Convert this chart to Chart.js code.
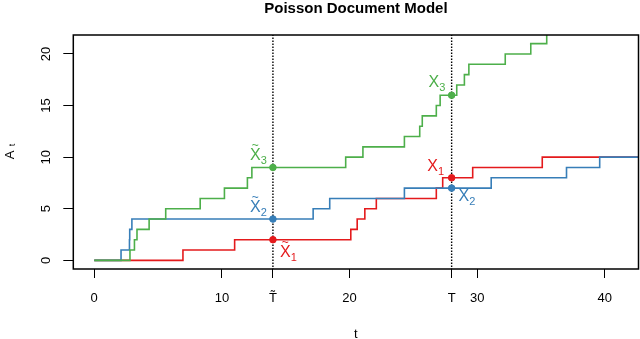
<!DOCTYPE html>
<html>
<head>
<meta charset="utf-8">
<script src="https://cdn.jsdelivr.net/npm/chart.js@4.4.1/dist/chart.umd.min.js"></script>
<style>
html, body { margin: 0; padding: 0; background: #fff; }
</style>
</head>
<body>
<canvas id="poissonChart" width="640" height="339"></canvas>
<script>
// jump times (t) and counts (A_t) of the three processes
const redT = [0, 6.95, 11.0, 20.1, 20.6, 21.2, 22.1, 26.8, 27.3, 29.65, 35.1, 43];
const redA = [0, 1, 2, 3, 4, 5, 6, 7, 8, 9, 10, 10];
const blueT = [0, 2.1, 2.76, 2.78, 2.95, 17.15, 18.45, 24.3, 31.1, 37.0, 39.6, 43];
const blueA = [0, 1, 2, 3, 4, 5, 6, 7, 8, 9, 10, 10];
const greenT = [0, 2.8, 3.15, 3.35, 4.3, 5.6, 8.3, 10.2, 12.0, 12.35, 19.7, 21.05,
                24.3, 25.5, 25.7, 26.8, 27.1, 28.4, 29.0, 29.35, 32.2, 34.2, 35.45, 43];
const greenA = [0, 1, 2, 3, 4, 5, 6, 7, 8, 9, 10, 11,
                12, 13, 14, 15, 16, 17, 18, 19, 20, 21, 22, 22];

// the two observation times (T~ and T) and the marked values there
const tTilde = 14;
const tEnd = 28;
const markT = [14, 14, 14, 28, 28, 28];
const markA = [2, 4, 9, 8, 7, 16];
const markSub = ['1', '2', '3', '1', '2', '3'];
const markTilde = [true, true, true, false, false, false];

// axis ticks
const xTicks = [0, 10, 14, 20, 28, 30, 40];
const xTickLabels = ['0', '10', 'T\u0303', '20', 'T', '30', '40'];
const yTicks = [0, 5, 10, 15, 20];

const RED = '#E41A1C';
const BLUE = '#377EB8';
const GREEN = '#4DAF4A';
const markColors = [RED, BLUE, GREEN, RED, BLUE, GREEN];
// label offsets from each marked point (px)
const labelDx = [12.3, -17.7, -17.7, -19, 12.3, -17.7];
const labelDy = [13, -11.5, -12, -11.3, 8.7, -12.3];

const FONT = '"Liberation Sans", Arial, Helvetica, sans-serif';

function toXY(ts, as) {
    return ts.map((t, i) => ({ x: t, y: as[i] }));
}

const extras = {
    id: 'extras',
    afterDraw(chart) {
        const { ctx, chartArea: a, scales: { x, y } } = chart;
        ctx.save();

        // plot frame
        ctx.strokeStyle = '#000';
        ctx.lineWidth = 1.5;
        ctx.strokeRect(a.left, a.top, a.right - a.left, a.bottom - a.top);

        // main title
        ctx.fillStyle = '#000';
        ctx.textAlign = 'center';
        ctx.textBaseline = 'middle';
        ctx.font = 'bold 15px ' + FONT;
        ctx.fillText('Poisson Document Model', (a.left + a.right) / 2, 8.5);

        // y tick labels, rotated like R
        ctx.font = '13px ' + FONT;
        yTicks.forEach(v => {
            ctx.save();
            ctx.translate(46, y.getPixelForValue(v));
            ctx.rotate(-Math.PI / 2);
            ctx.fillText(String(v), 0, 0);
            ctx.restore();
        });

        // y title A_t
        ctx.save();
        ctx.translate(10, 155);
        ctx.rotate(-Math.PI / 2);
        ctx.font = '13px ' + FONT;
        ctx.fillText('A', 0, 0);
        ctx.font = '9px ' + FONT;
        ctx.fillText('t', 10, 3);
        ctx.restore();

        // point labels X~_i and X_i
        markT.forEach((t, i) => {
            const px = x.getPixelForValue(t) + labelDx[i];
            const py = y.getPixelForValue(markA[i]) + labelDy[i];
            ctx.fillStyle = markColors[i];
            ctx.font = '16px ' + FONT;
            ctx.fillText('X', px, py);
            ctx.font = '11px ' + FONT;
            ctx.fillText(markSub[i], px + 8.5, py + 5);
            if (markTilde[i]) {
                ctx.font = '12px ' + FONT;
                ctx.fillText('~', px, py - 10);
            }
        });
        ctx.restore();
    }
};

new Chart(document.getElementById('poissonChart'), {
    type: 'scatter',
    data: {
        datasets: [
            {
                data: markT.map((t, i) => ({ x: t, y: markA[i] })),
                pointRadius: 3.3,
                pointBackgroundColor: markColors,
                pointBorderColor: markColors,
                showLine: false,
                order: 0
            },
            {
                data: toXY(greenT, greenA),
                borderColor: GREEN, borderWidth: 1.6,
                showLine: true, stepped: 'before', pointRadius: 0, order: 1
            },
            {
                data: toXY(blueT, blueA),
                borderColor: BLUE, borderWidth: 1.6,
                showLine: true, stepped: 'before', pointRadius: 0, order: 2
            },
            {
                data: toXY(redT, redA),
                borderColor: RED, borderWidth: 1.6,
                showLine: true, stepped: 'before', pointRadius: 0, order: 3
            },
            {
                data: [{ x: tTilde, y: -5 }, { x: tTilde, y: 30 }],
                borderColor: '#000', borderWidth: 1.4, borderDash: [1.5, 1.5],
                showLine: true, pointRadius: 0, order: 4
            },
            {
                data: [{ x: tEnd, y: -5 }, { x: tEnd, y: 30 }],
                borderColor: '#000', borderWidth: 1.4, borderDash: [1.5, 1.5],
                showLine: true, pointRadius: 0, order: 4
            }
        ]
    },
    options: {
        responsive: false,
        animation: false,
        events: [],
        layout: { autoPadding: false, padding: { top: 35, right: 1.5, bottom: 0, left: 0.3 } },
        plugins: { legend: { display: false }, tooltip: { enabled: false } },
        scales: {
            x: {
                type: 'linear',
                min: -1.64,
                max: 42.64,
                afterBuildTicks: s => { s.ticks = xTicks.map(v => ({ value: v })); },
                afterFit: s => { s.height = 70; s.paddingLeft = 0; s.paddingRight = 0; },
                grid: { drawOnChartArea: false, drawTicks: true, tickLength: 9, color: '#000', lineWidth: 1 },
                border: { display: false },
                ticks: {
                    callback: (v, i) => xTickLabels[i],
                    color: '#000',
                    font: { family: FONT, size: 13 },
                    padding: 13,
                    maxRotation: 0,
                    autoSkip: false
                },
                title: {
                    display: true, text: 't', color: '#000',
                    font: { family: FONT, size: 13 },
                    padding: { top: 0, bottom: -3 }
                }
            },
            y: {
                min: -0.84,
                max: 21.84,
                afterBuildTicks: s => { s.ticks = yTicks.map(v => ({ value: v })); },
                afterFit: s => { s.width = 73; },
                grid: { drawOnChartArea: false, drawTicks: true, tickLength: 10, color: '#000', lineWidth: 1 },
                border: { display: false },
                ticks: { color: 'rgba(0,0,0,0)', padding: 0 }
            }
        }
    },
    plugins: [extras]
});
</script>
</body>
</html>
